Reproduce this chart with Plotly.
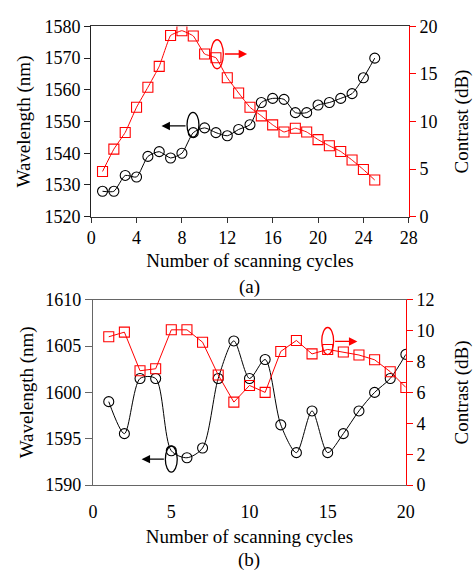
import plotly.graph_objects as go

# ---- data (a) ----
cycles_a = list(range(1, 26))
wl_a = [1528, 1528, 1533, 1532.5, 1539, 1540.5, 1538.5, 1540, 1546.5, 1548,
        1546.5, 1545.5, 1547.5, 1549, 1556, 1557.3, 1557, 1552.8, 1552.8, 1555.2,
        1556, 1557.3, 1558.8, 1563.8, 1570]
ct_a = [4.75, 7.1, 8.85, 11.5, 13.6, 15.8, 19.05, 19.55, 19.0, 17.1,
        16.7, 14.6, 13.0, 11.5, 10.6, 9.65, 8.9, 9.3, 8.9, 8.1,
        7.45, 6.85, 5.95, 4.95, 3.85]

# ---- data (b) ----
cycles_b = list(range(1, 21))
wl_b = [1599.0, 1595.55, 1601.5, 1601.5, 1593.7, 1592.95, 1594.0, 1601.5, 1605.55, 1601.5,
        1603.55, 1596.5, 1593.5, 1598.0, 1593.5, 1595.55, 1598.0, 1600.0, 1601.5, 1604.1]
ct_b = [9.6, 9.9, 7.4, 7.53, 10.05, 10.05, 9.25, 7.13, 5.37, 6.45,
        6.0, 8.65, 9.36, 8.49, 8.78, 8.61, 8.42, 8.11, 7.34, 6.32]

xticks_a = [0, 4, 8, 12, 16, 20, 24, 28]
xticks_b = [0, 5, 10, 15, 20]

FONT = "Liberation Serif, Times New Roman, serif"
RED = "#ff0000"
W, H = 473, 582

fig = go.Figure()

circ = dict(symbol="circle-open", size=10, color="black", line=dict(width=1.1))
sq = dict(symbol="square-open", size=10, color=RED, line=dict(width=1.1))

fig.add_trace(go.Scatter(x=cycles_a, y=wl_a, mode="lines+markers", xaxis="x", yaxis="y",
                         line=dict(color="black", width=1.0, shape="spline", smoothing=0.6),
                         marker=circ, showlegend=False))
fig.add_trace(go.Scatter(x=cycles_a, y=ct_a, mode="lines+markers", xaxis="x", yaxis="y2",
                         line=dict(color=RED, width=1.0, shape="spline", smoothing=0.3),
                         marker=sq, showlegend=False))
fig.add_trace(go.Scatter(x=cycles_b, y=wl_b, mode="lines+markers", xaxis="x2", yaxis="y3",
                         line=dict(color="black", width=1.0, shape="spline", smoothing=0.8),
                         marker=circ, showlegend=False))
fig.add_trace(go.Scatter(x=cycles_b, y=ct_b, mode="lines+markers", xaxis="x2", yaxis="y4",
                         line=dict(color=RED, width=1.0),
                         marker=sq, showlegend=False))

tickfont = dict(family=FONT, size=18, color="black")
titlefont = dict(family=FONT, size=19, color="black")

dom_xa = [89 / W, 417 / W]
dom_ya = [(H - 214) / H, (H - 17) / H]
dom_xb = [91 / W, 414 / W]
dom_yb = [(H - 492) / H, (H - 300) / H]

fig.update_layout(
    width=W, height=H, margin=dict(l=0, r=0, t=0, b=0),
    paper_bgcolor="white", plot_bgcolor="white",
    font=dict(family=FONT),
    xaxis=dict(domain=dom_xa, anchor="y", range=[0, 28], tickvals=xticks_a,
               showgrid=False, zeroline=False, showline=True, linecolor="#333", linewidth=1.3,
               mirror=True, ticks="outside", ticklen=5, tickcolor="#333", tickfont=tickfont,
               title=dict(text="Number of scanning cycles", font=titlefont, standoff=6)),
    yaxis=dict(domain=dom_ya, anchor="x", range=[1520, 1580], tickvals=list(range(1520, 1581, 10)),
               showgrid=False, zeroline=False, showline=True, linecolor="#222", linewidth=1.3,
               ticks="outside", ticklen=6, tickcolor="#222", tickfont=tickfont,
               title=dict(text="Wavelength (nm)", font=titlefont, standoff=8)),
    yaxis2=dict(overlaying="y", side="right", anchor="x", range=[0, 20], tickvals=[0, 5, 10, 15, 20],
                showgrid=False, zeroline=False, showline=True, linecolor=RED, linewidth=1.3,
                ticks="outside", ticklen=6, tickcolor=RED, tickfont=tickfont,
                title=dict(text="Contrast (dB)", font=titlefont, standoff=22)),
    xaxis2=dict(domain=dom_xb, anchor="y3", range=[0, 20], tickvals=xticks_b,
                showgrid=False, zeroline=False, showline=True, linecolor="#666", linewidth=1.3,
                mirror=True, ticks="", tickfont=tickfont, ticklabelstandoff=10,
                title=dict(text="Number of scanning cycles", font=titlefont, standoff=8)),
    yaxis3=dict(domain=dom_yb, anchor="x2", range=[1590, 1610], tickvals=[1590, 1595, 1600, 1605, 1610],
                showgrid=False, zeroline=False, showline=True, linecolor="#666", linewidth=1.3,
                ticks="outside", ticklen=7, tickcolor="#666", tickfont=tickfont,
                title=dict(text="Wavelength (nm)", font=titlefont, standoff=6)),
    yaxis4=dict(overlaying="y3", side="right", anchor="x2", range=[0, 12], tickvals=[0, 2, 4, 6, 8, 10, 12],
                showgrid=False, zeroline=False, showline=True, linecolor=RED, linewidth=1.3,
                ticks="outside", ticklen=6, tickcolor=RED, tickfont=tickfont,
                title=dict(text="Contrast (dB)", font=titlefont, standoff=22)),
)

# ellipses
fig.add_shape(type="circle", xref="x", yref="y", x0=8.45, x1=9.5, y0=1545.1, y1=1552.9,
              line=dict(color="black", width=1.3))
fig.add_shape(type="circle", xref="x", yref="y2", x0=10.55, x1=11.65, y0=15.55, y1=18.6,
              line=dict(color=RED, width=1.3))
fig.add_shape(type="circle", xref="x2", yref="y4", x0=14.62, x1=15.38, y0=8.45, y1=10.2,
              line=dict(color=RED, width=1.3))
fig.add_shape(type="circle", xref="x2", yref="y3", x0=4.62, x1=5.38, y0=1591.4, y1=1594.2,
              line=dict(color="black", width=1.3))

# arrows
def arrow(x, y, ax, ay, xr, yr, color):
    fig.add_annotation(x=x, y=y, ax=ax, ay=ay, xref=xr, yref=yr, axref=xr, ayref=yr,
                       showarrow=True, arrowhead=2, arrowsize=1.3, arrowwidth=1.3,
                       arrowcolor=color, text="")

arrow(6.2, 1548.6, 8.45, 1548.6, "x", "y", "black")
arrow(13.75, 17.1, 11.65, 17.1, "x", "y2", RED)
arrow(16.9, 9.3, 15.38, 9.3, "x2", "y4", RED)
arrow(3.1, 1592.8, 4.62, 1592.8, "x2", "y3", "black")

# panel labels
fig.add_annotation(text="(a)", x=(89 + 417) / 2 / W, y=(H - 287) / H, xref="paper", yref="paper",
                   showarrow=False, font=titlefont, yanchor="middle")
fig.add_annotation(text="(b)", x=(91 + 414) / 2 / W, y=(H - 570) / H, xref="paper", yref="paper",
                   showarrow=False, font=titlefont, yanchor="middle")

fig.write_html("out.html")
